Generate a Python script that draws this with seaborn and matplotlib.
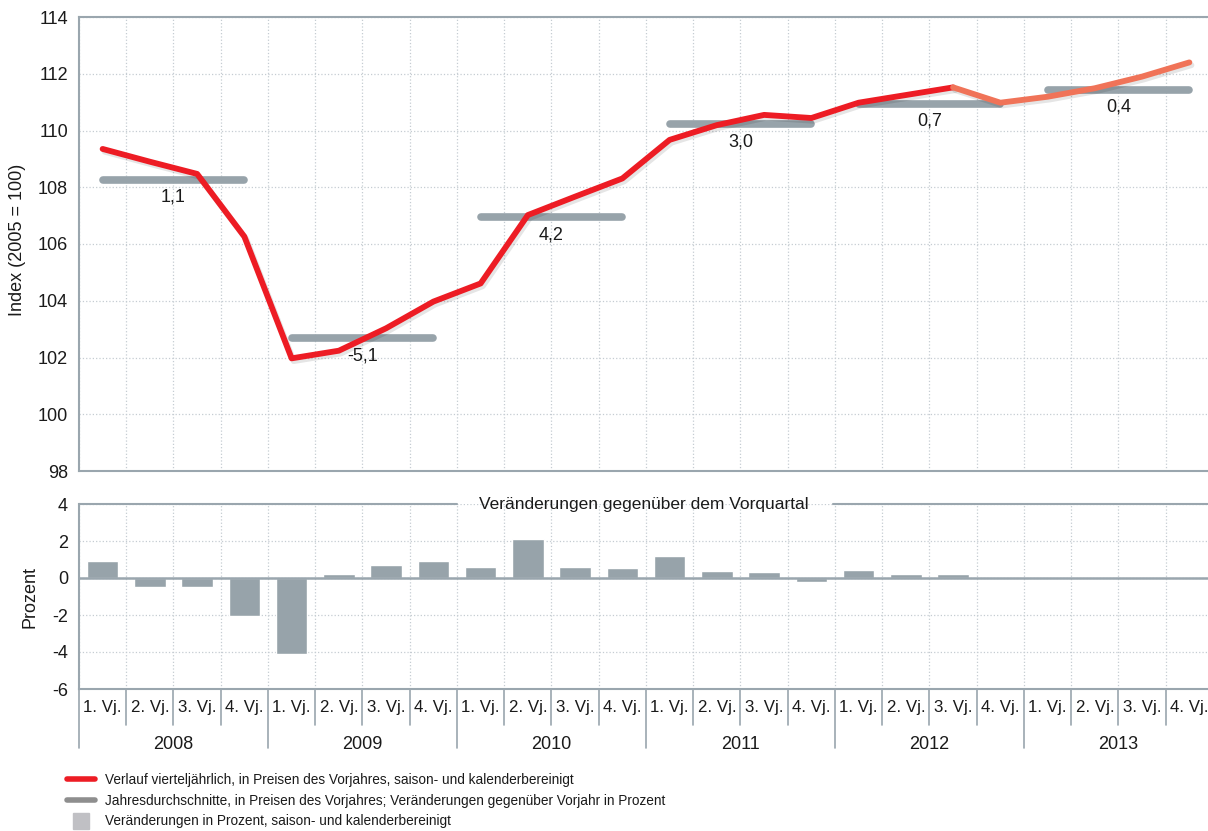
"""
BIP-Entwicklung: Index (2005 = 100) mit Jahresdurchschnitten und
Veränderungen gegenüber dem Vorquartal.
"""

import matplotlib

matplotlib.use("Agg")
import matplotlib.pyplot as plt
import matplotlib.patheffects as pe
from matplotlib.lines import Line2D
import numpy as np
import pandas as pd
import seaborn as sns

years = ["2008", "2009", "2010", "2011", "2012", "2013"]
quarter_labels = ["1. Vj.", "2. Vj.", "3. Vj.", "4. Vj."]

# Index, 1. Vj. 2008 bis 3. Vj. 2012 (rot)
index_actual = [109.35, 108.9, 108.47, 106.26, 101.97, 102.24, 103.03, 103.97,
                104.61, 107.02, 107.67, 108.31, 109.67, 110.19, 110.55, 110.44,
                110.98, 111.25, 111.52]
# Prognose, 3. Vj. 2012 bis 4. Vj. 2013 (orange)
index_forecast = [111.52, 110.98, 111.19, 111.49, 111.9, 112.4]

annual_avg = [108.26, 102.68, 106.94, 110.22, 110.93, 111.43]
annual_change = ["1,1", "-5,1", "4,2", "3,0", "0,7", "0,4"]

qoq_change = [0.9, -0.5, -0.5, -2.05, -4.1, 0.2, 0.7, 0.9,
              0.6, 2.1, 0.6, 0.55, 1.2, 0.4, 0.3, -0.2,
              0.45, 0.2, 0.2, np.nan, np.nan, np.nan, np.nan, np.nan]

RED = "#ED1C24"
ORANGE = "#F07358"
GRAY = "#97A3AA"
AXIS = "#9AA6AE"
GRID = "#C5CCD2"
TEXT = "#1A1A1A"

sns.set_style("white")
plt.rcParams["font.family"] = ["Liberation Sans", "DejaVu Sans"]
plt.rcParams["font.size"] = 13
plt.rcParams["axes.unicode_minus"] = False
plt.rcParams["text.color"] = TEXT
plt.rcParams["ytick.labelcolor"] = TEXT
plt.rcParams["axes.labelcolor"] = TEXT

n_q = len(years) * 4
keys = [f"{y}-{q + 1}" for y in years for q in range(4)]
df_bars = pd.DataFrame({"quarter": keys, "change": qoq_change})

W, H = 1208, 831
fig = plt.figure(figsize=(W / 100, H / 100), dpi=100)
left = 79 / W
width = 1134 / W
ax1 = fig.add_axes([left, 1 - 471 / H, width, 454 / H])
ax2 = fig.add_axes([left, 1 - 689 / H, width, 185 / H])

shadow = [pe.SimpleLineShadow(offset=(1.5, -2), shadow_color="k", alpha=0.1),
          pe.Normal()]

# --- oberes Diagramm ---
sns.lineplot(x=np.arange(len(index_actual)), y=index_actual, color=RED,
             lw=4.2, ax=ax1, path_effects=shadow, zorder=4)
sns.lineplot(x=np.arange(len(index_actual) - 1, n_q), y=index_forecast,
             color=ORANGE, lw=4.2, ax=ax1, path_effects=shadow, zorder=4)
for i, (avg, lab) in enumerate(zip(annual_avg, annual_change)):
    ax1.plot([i * 4, i * 4 + 3], [avg, avg], color=GRAY, lw=5.5,
             solid_capstyle="round", zorder=3)
    ax1.annotate(lab, (i * 4 + 1.5, avg), xytext=(0, -12.5),
                 textcoords="offset points", ha="center", va="center",
                 fontsize=13, zorder=5)

ax1.set_xlim(-0.5, n_q - 0.5)
ax1.set_ylim(98, 114)
ax1.set_yticks(range(98, 115, 2))
ax1.set_xticks([])
ax1.set_xticks(np.arange(-0.5, n_q, 1), minor=True)
ax1.tick_params(axis="x", which="both", length=0)
ax1.grid(axis="y", which="major", color=GRID, ls=":", lw=0.9)
ax1.grid(axis="x", which="minor", color=GRID, ls=":", lw=0.9)
ax1.set_ylabel("Index (2005 = 100)", fontsize=13)
ax1.yaxis.set_label_coords(-0.047, 0.51)
for s in ["left", "top", "bottom"]:
    ax1.spines[s].set_color(AXIS)
    ax1.spines[s].set_linewidth(1.5)
ax1.spines["right"].set_visible(False)
ax1.tick_params(axis="y", length=5, width=1.5, color=AXIS, pad=3,
                labelsize=13)

# --- unteres Diagramm ---
sns.barplot(data=df_bars, x="quarter", y="change", color=GRAY, saturation=1,
            width=0.67, errorbar=None, ax=ax2, zorder=3)
ax2.axhline(0, color=AXIS, lw=1.8, zorder=4)
ax2.set_xlim(-0.5, n_q - 0.5)
ax2.set_ylim(-6, 4)
ax2.set_yticks(range(-6, 5, 2))
ax2.set_xticks([])
ax2.set_xticks(np.arange(-0.5, n_q, 1), minor=True)
ax2.tick_params(axis="x", which="both", length=0, labelbottom=False)
ax2.grid(axis="y", which="major", color=GRID, ls=":", lw=0.9)
ax2.grid(axis="x", which="minor", color=GRID, ls=":", lw=0.9)
ax2.set_xlabel("")
ax2.set_ylabel("Prozent", fontsize=13)
ax2.yaxis.set_label_coords(-0.036, 0.5)
ax2.spines["right"].set_visible(False)
ax2.spines["top"].set_visible(False)
for s in ["left", "bottom"]:
    ax2.spines[s].set_color(AXIS)
    ax2.spines[s].set_linewidth(1.5)
ax2.tick_params(axis="y", length=5, width=1.5, color=AXIS, pad=3,
                labelsize=13)

# unterbrochene obere Linie mit Titel
ax2.plot([0, 0.333], [1, 1], transform=ax2.transAxes, color=AXIS, lw=1.5,
         clip_on=False)
ax2.plot([0.665, 1], [1, 1], transform=ax2.transAxes, color=AXIS, lw=1.5,
         clip_on=False)
ax2.text(0.4985, 1, "Veränderungen gegenüber dem Vorquartal", transform=ax2.transAxes,
         ha="center", va="center", fontsize=12.5)

# Quartals- und Jahresbeschriftung
trans = ax2.get_xaxis_transform()
for k in range(n_q + 1):
    is_year = k % 4 == 0
    ax2.plot([k - 0.5, k - 0.5], [0, -0.32 if is_year else -0.195],
             transform=trans, color=AXIS, lw=1.2, clip_on=False)
for k in range(n_q):
    ax2.text(k, -0.1, quarter_labels[k % 4], transform=trans, ha="center",
             va="center", fontsize=12.2)
for i, y in enumerate(years):
    ax2.text(i * 4 + 1.5, -0.3, y, transform=trans, ha="center",
             va="center", fontsize=13)

# Legende
handles = [
    Line2D([], [], color=RED, lw=4),
    Line2D([], [], color="#8E8E8E", lw=4),
    Line2D([], [], color="#C0C0C4", marker="s", ls="none", markersize=12),
]
labels = [
    "Verlauf vierteljährlich, in Preisen des Vorjahres, saison- und kalenderbereinigt",
    "Jahresdurchschnitte, in Preisen des Vorjahres; Veränderungen gegenüber Vorjahr in Prozent",
    "Veränderungen in Prozent, saison- und kalenderbereinigt",
]
fig.legend(handles, labels, loc="upper left", bbox_to_anchor=(60 / W, 1 - 766 / H),
           frameon=False, fontsize=9.8, handlelength=2.1, handletextpad=0.7,
           labelspacing=0.5, borderpad=0)

fig.savefig("out.png", dpi=100)
